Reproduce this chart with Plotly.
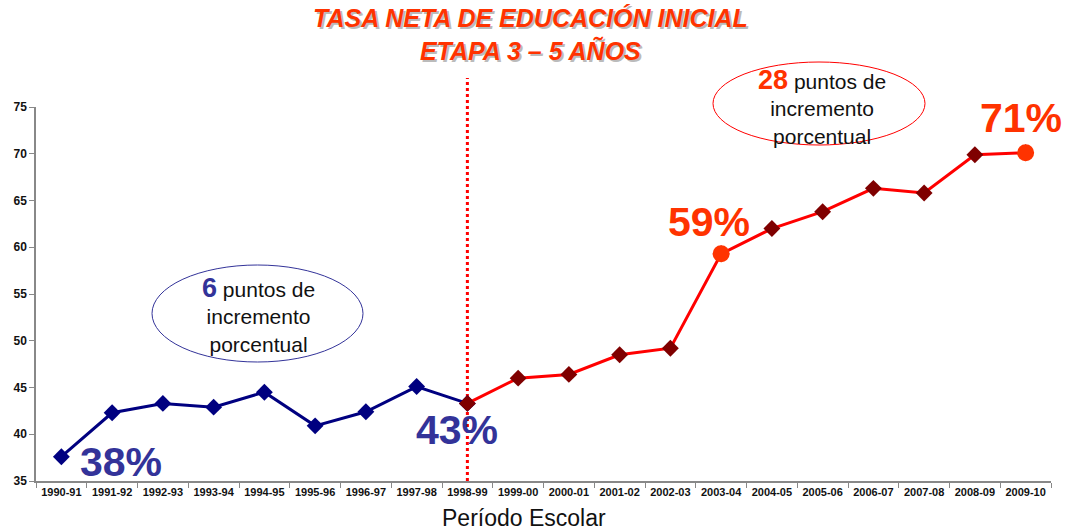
import plotly.graph_objects as go

periods = ["1990-91", "1991-92", "1992-93", "1993-94", "1994-95", "1995-96", "1996-97",
           "1997-98", "1998-99", "1999-00", "2000-01", "2001-02", "2002-03", "2003-04",
           "2004-05", "2005-06", "2006-07", "2007-08", "2008-09", "2009-10"]
blue_periods = periods[:9]
blue_values = [37.6, 42.3, 43.3, 42.9, 44.5, 40.9, 42.4, 45.1, 43.3]
red_periods = periods[8:]
red_values = [43.3, 46.0, 46.4, 48.5, 49.2, 59.3, 62.0, 63.8, 66.3, 65.8, 69.9, 70.1]
highlight_periods = ["2003-04", "2009-10"]
highlight_values = [59.3, 70.1]
y_ticks = [35, 40, 45, 50, 55, 60, 65, 70, 75]

W, H = 1069, 531
L, R, T, B = 36, 18, 107, 50
PW, PH = W - L - R, H - T - B

def px(x):
    return (x - L) / PW

def py(y):
    return (H - B - y) / PH

FONT = "Arial, Liberation Sans, sans-serif"
ORANGE = "#FF3300"
BLUE_TXT = "#333399"

fig = go.Figure()
fig.add_trace(go.Scatter(x=blue_periods, y=blue_values, mode="lines+markers",
                         line=dict(color="#000080", width=3),
                         marker=dict(symbol="diamond", size=13, color="#000080"),
                         showlegend=False, hoverinfo="x+y"))
fig.add_trace(go.Scatter(x=red_periods, y=red_values, mode="lines+markers",
                         line=dict(color="#FF0000", width=3),
                         marker=dict(symbol="diamond", size=13, color="#7F0000"),
                         showlegend=False, hoverinfo="x+y"))
fig.add_trace(go.Scatter(x=highlight_periods, y=highlight_values, mode="markers",
                         marker=dict(symbol="circle", size=17, color=ORANGE),
                         showlegend=False, hoverinfo="x+y"))

# vertical dotted separator
fig.add_shape(type="line", xref="x", yref="paper", x0="1998-99", x1="1998-99",
              y0=0, y1=py(78), line=dict(color="#FF0000", width=3, dash="dot"), layer="below")

# ellipses
fig.add_shape(type="circle", xref="paper", yref="paper",
              x0=px(152), x1=px(363), y0=py(362), y1=py(265),
              line=dict(color=BLUE_TXT, width=1))
fig.add_shape(type="circle", xref="paper", yref="paper",
              x0=px(713), x1=px(925), y0=py(145), y1=py(62),
              line=dict(color="#FF0000", width=1))

ann = []

def text_at(txt, cx, cy, size, color, shadow=False):
    if shadow:
        ann.append(dict(x=px(cx), y=py(cy), xref="paper", yref="paper", text=txt,
                        showarrow=False, font=dict(family=FONT, size=size, color="#BBBBBB"),
                        xanchor="center", yanchor="middle", align="center",
                        xshift=2, yshift=-2))
    ann.append(dict(x=px(cx), y=py(cy), xref="paper", yref="paper", text=txt,
                    showarrow=False, font=dict(family=FONT, size=size, color=color),
                    xanchor="center", yanchor="middle", align="center"))

# title (two lines, with shadow)
text_at("<b><i>TASA NETA DE EDUCACIÓN INICIAL<br>ETAPA 3 – 5 AÑOS</i></b>", 530, 35, 25, ORANGE, shadow=True)

# ellipse texts
text_at(f"<b><span style='color:{BLUE_TXT};font-size:27px'>6</span></b> puntos de<br>incremento<br>porcentual",
        258, 314, 21, "#111111")
text_at(f"<b><span style='color:{ORANGE};font-size:27px'>28</span></b> puntos de<br>incremento<br>porcentual",
        822, 106, 21, "#111111")

# percentage labels
for txt, cx, cy, col in [("38%", 121, 462, BLUE_TXT), ("43%", 457, 430, BLUE_TXT),
                         ("59%", 709, 222, ORANGE), ("71%", 1021, 118, ORANGE)]:
    text_at(f"<b>{txt}</b>", cx, cy, 41, col)

# x-axis title
text_at("Período Escolar", 524, 518, 23, "#111111")

fig.update_layout(
    width=W, height=H, margin=dict(l=L, r=R, t=T, b=B, autoexpand=False),
    paper_bgcolor="white", plot_bgcolor="white",
    annotations=ann,
    xaxis=dict(type="category", categoryorder="array", categoryarray=periods,
               range=[-0.5, len(periods) - 0.5], showgrid=False, zeroline=False,
               showline=True, linecolor="#888888", linewidth=1.5,
               ticks="outside", tickson="boundaries", ticklen=5, tickcolor="#888888",
               tickfont=dict(family=FONT, size=11, color="#111111", weight="bold")),
    yaxis=dict(range=[35, 75], tickvals=y_ticks, showgrid=False, zeroline=False,
               showline=True, linecolor="#888888", linewidth=1.5,
               ticks="outside", ticklen=5, tickcolor="#888888",
               tickfont=dict(family=FONT, size=12, color="#111111", weight="bold")),
)

fig.write_html("out.html", config={"displayModeBar": False},
               post_script="document.body.style.margin='0';document.body.style.padding='0';")
